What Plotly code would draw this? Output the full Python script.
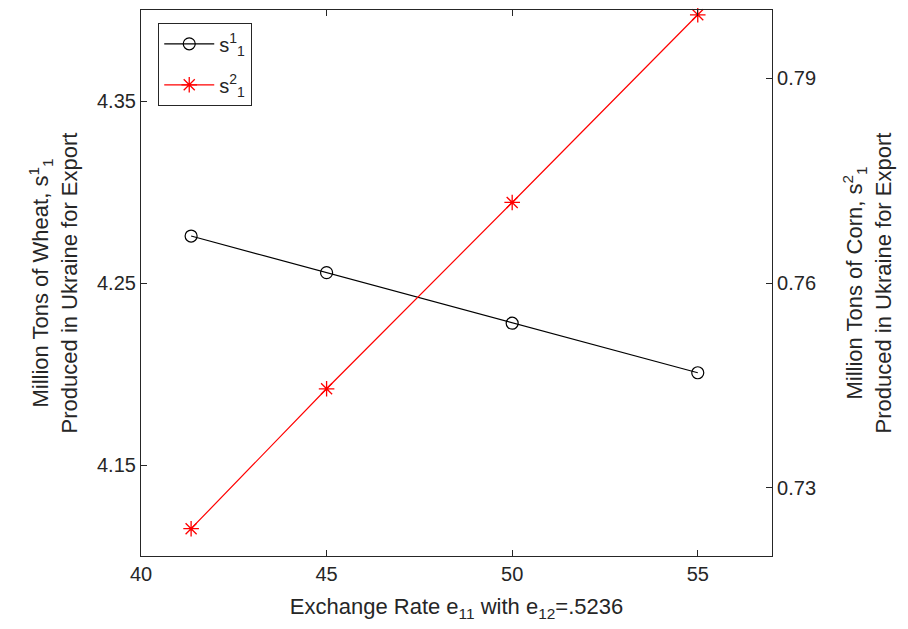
import plotly.graph_objects as go

exchange_rate = [41.35, 45, 50, 55]
wheat_s11 = [4.2758, 4.2557, 4.2279, 4.2007]
corn_s21 = [0.7240, 0.7445, 0.7718, 0.7993]

x_ticks = [40, 45, 50, 55]
left_ticks = [4.15, 4.25, 4.35]
right_ticks = [0.73, 0.76, 0.79]

txt = "#262626"
font_family = "Liberation Sans, Arial, sans-serif"

fig = go.Figure()
fig.add_trace(go.Scatter(
    x=exchange_rate, y=wheat_s11, mode="lines+markers",
    name="s<sup>1</sup><sub>1</sub>", cliponaxis=False, legendgroup="a",
    line=dict(color="black", width=1.2),
    marker=dict(symbol="circle-open", size=12, color="black", line=dict(width=1.2)),
    yaxis="y"))
fig.add_trace(go.Scatter(
    x=exchange_rate, y=corn_s21, mode="lines+markers",
    name="s<sup>2</sup><sub>1</sub>", cliponaxis=False, legendgroup="b",
    line=dict(color="red", width=1.2),
    marker=dict(symbol="asterisk-open", size=13, color="red", line=dict(width=1.3, color="red")),
    yaxis="y2"))

axis_common = dict(showgrid=False, zeroline=False, showline=True, linecolor=txt, linewidth=1.2,
                   ticks="inside", ticklen=6, tickcolor=txt,
                   tickfont=dict(size=20, color=txt, family=font_family))

fig.update_layout(
    width=900, height=621,
    margin=dict(l=133, r=136, t=2, b=73),
    paper_bgcolor="white", plot_bgcolor="white",
    font=dict(family=font_family, color=txt),
    xaxis=dict(range=[40, 57], tickvals=x_ticks, mirror="ticks",
               title=dict(text="Exchange Rate e<sub>11</sub> with e<sub>12</sub>=.5236",
                          font=dict(size=22, color=txt), standoff=14),
               **axis_common),
    yaxis=dict(range=[4.1, 4.4], tickvals=left_ticks, tickformat=".2f",
               title=dict(text="Million Tons of Wheat, s<sup>1</sup><sub>1</sub><br>Produced in Ukraine for Export",
                          font=dict(size=22, color=txt), standoff=13),
               **axis_common),
    yaxis2=dict(range=[0.72, 0.80], tickvals=right_ticks, tickformat=".2f",
                overlaying="y", side="right",
                title=dict(text="Million Tons of Corn, s<sup>2</sup><sub>1</sub><br>Produced in Ukraine for Export",
                           font=dict(size=22, color=txt), standoff=31),
                **axis_common),
    legend=dict(x=0.027, y=0.976, xanchor="left", yanchor="top",
                bordercolor=txt, borderwidth=1.2, bgcolor="white",
                itemwidth=50, tracegroupgap=12,
                font=dict(size=20, color=txt, family=font_family)),
    showlegend=True,
)

fig.write_html("out.html")
